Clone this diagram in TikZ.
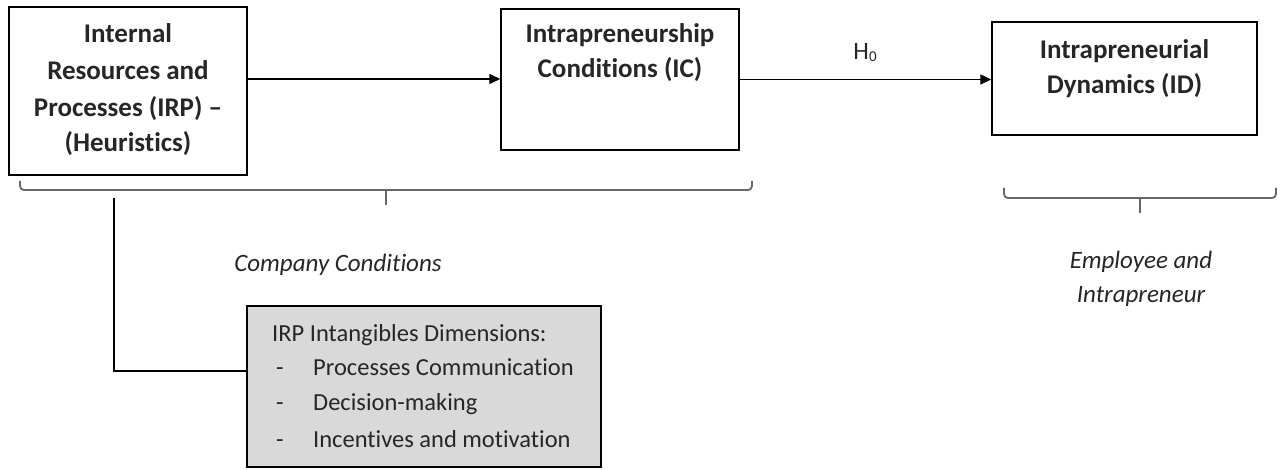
\documentclass[tikz,border=0pt]{standalone}
\usepackage{fontspec}
\setmainfont{Carlito}[Ligatures=NoCommon]
\usetikzlibrary{arrows.meta}
\begin{document}
\begin{tikzpicture}[x=1pt,y=-1pt,
  box/.style={draw=black, line width=1.5pt, inner sep=0pt},
  btxt/.style={font=\fontsize{27}{36}\selectfont\bfseries, anchor=base, inner sep=0pt, text=black!85},
  rtxt/.style={font=\fontsize{24.5}{35}\selectfont, anchor=base west, inner sep=0pt, text=black!85},
  itxt/.style={font=\fontsize{25}{35}\selectfont\itshape, anchor=base, inner sep=0pt, text=black!85},
  conn/.style={line width=1.5pt},
  arr/.style={conn, -{Triangle[length=11pt,width=10pt]}},
  brace/.style={line width=1.8pt, draw=black!60, rounded corners=4pt}
]
\useasboundingbox (0,0) rectangle (1281,470);
% boxes
\node[box, minimum width=238pt, minimum height=168pt] (irp) at (128,91) {};
\node[box, minimum width=238pt, minimum height=141pt] (ic) at (620,79.5) {};
\node[box, minimum width=265pt, minimum height=113pt] (id) at (1124.5,78.5) {};
\node[box, fill=black!15, minimum width=354pt, minimum height=161pt] (gray) at (424,386.5) {};
% box texts
\node[btxt] (irp1) at (128,43) {Internal};
\node[btxt] (irp2) at (128,80) {Resources and};
\node[btxt] (irp3) at (128,117) {Processes (IRP) --};
\node[btxt] (irp4) at (128,152) {(Heuristics)};
\node[btxt] (ic1) at (620,43) {Intrapreneurship};
\node[btxt] (ic2) at (620,78) {Conditions (IC)};
\node[btxt] (id1) at (1124.5,59) {Intrapreneurial};
\node[btxt] (id2) at (1124.5,94) {Dynamics (ID)};
% arrows
\draw[arr] (irp.east |- 0,79) -- (ic.west |- 0,79);
\draw[arr] (ic.east) -- (ic.east -| id.west);
\node[font=\fontsize{25}{30}\selectfont, anchor=base, inner sep=0pt, text=black!85] (h0) at (865,60) {H\raisebox{-2pt}{\fontsize{15}{15}\selectfont 0}};
% braces
\draw[brace] (20,181) -- (20,190) -- (752,190) -- (752,181);
\draw[brace, rounded corners=0pt] (386,190) -- (386,205);
\draw[brace] (1004,188) -- (1004,198) -- (1276,198) -- (1276,188);
\draw[brace, rounded corners=0pt] (1140,198) -- (1140,213);
% brace labels
\node[itxt] (cc) at (338,271) {Company Conditions};
\node[itxt] (ei1) at (1141,268) {Employee and};
\node[itxt] (ei2) at (1141,302) {Intrapreneur};
% L connector
\coordinate (lt) at (114,198);
\draw[conn] (lt) |- (gray.west |- 0,371);
% gray box text
\node[rtxt] (g0) at (272,341) {IRP Intangibles Dimensions:};
\node[rtxt] (d1) at (276,375) {-};
\node[rtxt] (g1) at (313,375) {Processes Communication};
\node[rtxt] (d2) at (276,410) {-};
\node[rtxt] (g2) at (313,410) {Decision-making};
\node[rtxt] (d3) at (276,447) {-};
\node[rtxt] (g3) at (313,447) {Incentives and motivation};
\end{tikzpicture}
\end{document}
